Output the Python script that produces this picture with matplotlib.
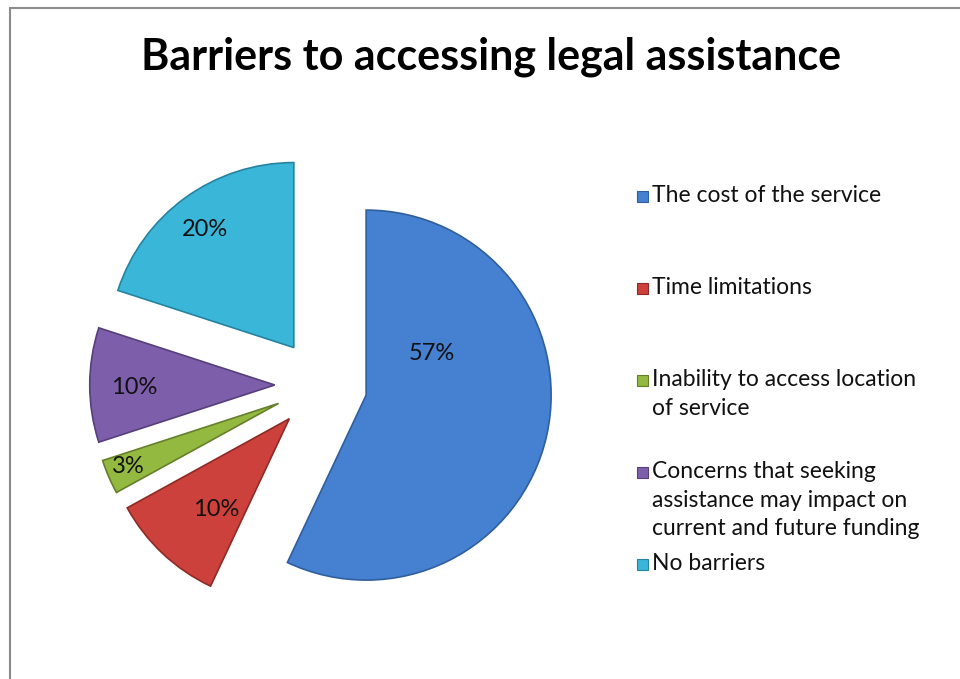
import numpy as np
import matplotlib.pyplot as plt
from matplotlib.patches import Rectangle

# data
categories = [
    "The cost of the service",
    "Time limitations",
    "Inability to access location\nof service",
    "Concerns that seeking\nassistance may impact on\ncurrent and future funding",
    "No barriers",
]
shares = [57, 10, 3, 10, 20]
pct_labels = ["57%", "10%", "3%", "10%", "20%"]

colors = ["#4680d0", "#cc413c", "#93b941", "#7d5eaa", "#3ab6d9"]
edges = ["#2f5f9e", "#8e2a26", "#667f2b", "#573f7c", "#2583a0"]
# label placement per slice: (distance from wedge tip in radii, angle in degrees)
label_pos = [(0.42, 32), (0.63, 231), (0.88, 203), (0.76, 181), (0.80, 127)]

plt.rcParams['font.family'] = ['Lato', 'DejaVu Sans']

fig = plt.figure(figsize=(9.6, 6.79), dpi=100)
ax = fig.add_axes([0, 0, 1, 1])

cx, cy, rad = 321, 385, 185

wedges, _ = ax.pie(shares, startangle=90, counterclock=False,
                   explode=[0.25] * len(shares), colors=colors,
                   radius=1.0, center=(0, 0), frame=True,
                   wedgeprops=dict(linewidth=1.2))
ax.set_xlim(-cx / rad, (960 - cx) / rad)
ax.set_ylim((cy - 679) / rad, cy / rad)
ax.set_aspect('equal')
ax.axis('off')

for w, ec, txt, (d, a) in zip(wedges, edges, pct_labels, label_pos):
    w.set_edgecolor(ec)
    x0, y0 = w.center
    ax.text(x0 + d * np.cos(np.radians(a)), y0 + d * np.sin(np.radians(a)),
            txt, ha='center', va='center', fontsize=17, color='#111111')

# legend drawn by hand to keep the uneven spacing
for i, (lab, c, ec) in enumerate(zip(categories, colors, edges)):
    ytop = 1 - (185 + 92 * i) / 679
    fig.patches.append(Rectangle((637 / 960, ytop - 17 / 679), 11 / 960, 11 / 679,
                                 transform=fig.transFigure, facecolor=c,
                                 edgecolor=ec, linewidth=0.8))
    fig.text(652 / 960, ytop, lab, ha='left', va='top', fontsize=16.5,
             linespacing=1.45, color='#111111')

fig.text(491 / 960, 1 - 57 / 679, "Barriers to accessing legal assistance",
         ha='center', va='center', fontsize=31, fontweight='bold', color='black')

fig.patches.append(Rectangle((10 / 960, -0.1), 1.2, 1 - 8 / 679 + 0.1,
                             transform=fig.transFigure, fill=False,
                             edgecolor='#8c8c8c', linewidth=1.5))

fig.savefig("out.png", dpi=100)
